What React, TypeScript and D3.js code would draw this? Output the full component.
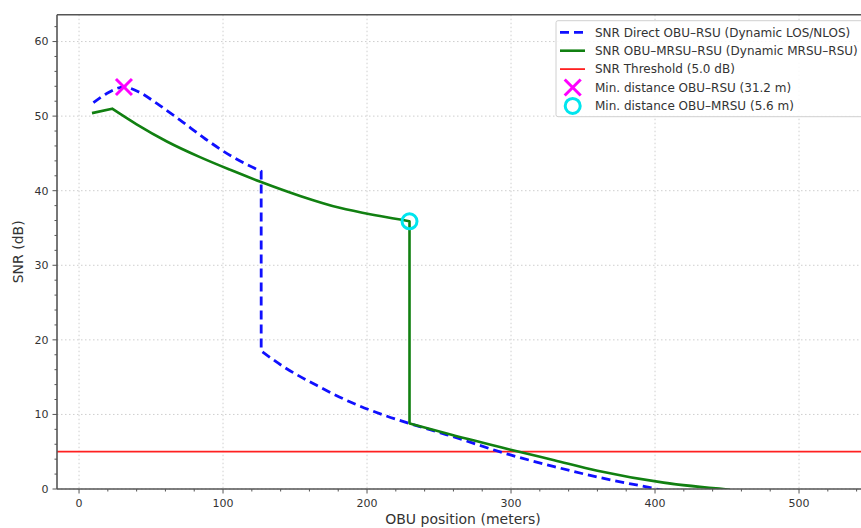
import React from 'react'
import * as d3 from 'd3'

// direct OBU-RSU link (dashed blue)
const directX = [10, 19, 31.2, 42, 54, 70, 88, 107, 126.5, 126.5, 142, 165, 188, 211, 230, 255, 299, 330, 360, 401, 413]
const directY = [51.8, 53.0, 53.9, 53.2, 51.7, 49.5, 46.9, 44.5, 42.6, 18.5, 16.4, 13.9, 11.7, 9.95, 8.75, 7.3, 4.6, 3.0, 1.6, 0.0, -0.5]

// OBU-MRSU-RSU link (green)
const mrsuX = [9, 23, 40, 61, 84, 105, 126, 153.5, 181, 209, 229.5, 229.5, 258, 299, 330, 360, 406, 452]
const mrsuY = [50.4, 51.0, 48.9, 46.6, 44.5, 42.8, 41.2, 39.3, 37.7, 36.6, 35.9, 8.8, 7.3, 5.3, 3.85, 2.45, 0.85, -0.1]
const mrsuKinks = [23]

const threshold = 5.0
const minDirect = { x: 31.2, y: 53.9 }
const minMrsu = { x: 229.5, y: 35.9 }

const xTicks = [0, 100, 200, 300, 400, 500]
const yTicks = [0, 10, 20, 30, 40, 50, 60]

const legendLabels = [
  'SNR Direct OBU\u2013RSU (Dynamic LOS/NLOS)',
  'SNR OBU\u2013MRSU\u2013RSU (Dynamic MRSU\u2013RSU)',
  'SNR Threshold (5.0 dB)',
  'Min. distance OBU\u2013RSU (31.2 m)',
  'Min. distance OBU\u2013MRSU (5.6 m)',
]

const W = 861
const H = 528
const PLOT = { left: 57, right: 869, top: 14.7, bottom: 489 }
const FONT = 'DejaVu Sans, sans-serif'
const TXT = '#333'

// smooth each piece between vertical jumps / kinks, keep one continuous path (dashes don't restart)
function smoothPath(
  xs: number[],
  ys: number[],
  sx: d3.ScaleLinear<number, number>,
  sy: d3.ScaleLinear<number, number>,
  kinks: number[] = []
) {
  const pts = xs.map((v, i) => [v, ys[i]] as [number, number])
  const pieces: [number, number][][] = [[pts[0]]]
  for (let i = 1; i < pts.length; i++) {
    const cur = pieces[pieces.length - 1]
    if (pts[i][0] === pts[i - 1][0]) pieces.push([pts[i]])
    else if (kinks.includes(pts[i][0])) {
      cur.push(pts[i])
      pieces.push([pts[i]])
    } else cur.push(pts[i])
  }
  const line = d3
    .line<[number, number]>()
    .x((d) => sx(d[0]))
    .y((d) => sy(d[1]))
    .curve(d3.curveMonotoneX)
  return pieces
    .filter((p) => p.length > 1)
    .map((p, i) => {
      const d = line(p) ?? ''
      return i === 0 ? d : 'L' + d.slice(1)
    })
    .join('')
}

export default function App() {
  const x = d3.scaleLinear().domain([-15.3, 548.6]).range([PLOT.left, PLOT.right])
  const y = d3.scaleLinear().domain([0, 63.6]).range([PLOT.bottom, PLOT.top])

  const directPath = smoothPath(directX, directY, x, y)
  const mrsuPath = smoothPath(mrsuX, mrsuY, x, y, mrsuKinks)

  const xMinor = d3.range(0, 560, 20).filter((v) => v % 100 !== 0)
  const yMinor = d3.range(0, 64, 2).filter((v) => v % 10 !== 0)

  const mx = x(minDirect.x)
  const my = y(minDirect.y)
  const xs = 8

  const legX = 556
  const legTop = 20.7
  const rowH = 18.4
  const handleX0 = 560
  const handleX1 = 585
  const handleMid = 572.7

  return (
    <svg width={W} height={H} style={{ position: 'absolute', left: 0, top: 0, background: '#fff' }}>
      <defs>
        <clipPath id="plotClip">
          <rect x={PLOT.left} y={PLOT.top} width={PLOT.right - PLOT.left} height={PLOT.bottom - PLOT.top} />
        </clipPath>
      </defs>

      {/* grid */}
      <g stroke="#c8c8c8" strokeWidth={0.9} strokeDasharray="1.5,2.5">
        {xTicks.map((t) => (
          <line key={'gx' + t} x1={x(t)} x2={x(t)} y1={PLOT.top} y2={PLOT.bottom} />
        ))}
        {yTicks.map((t) => (
          <line key={'gy' + t} x1={PLOT.left} x2={PLOT.right} y1={y(t)} y2={y(t)} />
        ))}
      </g>

      {/* data */}
      <g clipPath="url(#plotClip)" fill="none">
        <line x1={PLOT.left} x2={PLOT.right} y1={y(threshold)} y2={y(threshold)} stroke="#ff2020" strokeWidth={1.8} />
        <path d={directPath} stroke="#1010ff" strokeWidth={2.8} strokeDasharray="9,5" />
        <path d={mrsuPath} stroke="#118011" strokeWidth={2.6} strokeLinejoin="round" />
      </g>

      {/* markers */}
      <g stroke="#ff00ff" strokeWidth={3} strokeLinecap="butt">
        <line x1={mx - xs} y1={my - xs} x2={mx + xs} y2={my + xs} />
        <line x1={mx - xs} y1={my + xs} x2={mx + xs} y2={my - xs} />
      </g>
      <circle cx={x(minMrsu.x)} cy={y(minMrsu.y)} r={7.5} fill="none" stroke="#00e5ee" strokeWidth={3} />

      {/* spines */}
      <g stroke="#555" strokeWidth={1.6} fill="none">
        <line x1={PLOT.left} x2={PLOT.left} y1={PLOT.top} y2={PLOT.bottom} />
        <line x1={PLOT.left} x2={PLOT.right} y1={PLOT.bottom} y2={PLOT.bottom} />
        <line x1={PLOT.left} x2={PLOT.right} y1={PLOT.top} y2={PLOT.top} />
      </g>

      {/* ticks */}
      <g stroke="#555" strokeWidth={1}>
        {xTicks.map((t) => (
          <line key={'tx' + t} x1={x(t)} x2={x(t)} y1={PLOT.bottom} y2={PLOT.bottom + 4.5} />
        ))}
        {xMinor.map((t) => (
          <line key={'mx' + t} x1={x(t)} x2={x(t)} y1={PLOT.bottom} y2={PLOT.bottom + 2.5} />
        ))}
        {yTicks.map((t) => (
          <line key={'ty' + t} x1={PLOT.left - 4.5} x2={PLOT.left} y1={y(t)} y2={y(t)} />
        ))}
        {yMinor.map((t) => (
          <line key={'my' + t} x1={PLOT.left - 2.5} x2={PLOT.left} y1={y(t)} y2={y(t)} />
        ))}
      </g>

      {/* tick labels */}
      <g fontFamily={FONT} fontSize={11} fill={TXT}>
        {xTicks.map((t) => (
          <text key={'lx' + t} x={x(t)} y={507} textAnchor="middle">
            {t}
          </text>
        ))}
        {yTicks.map((t) => (
          <text key={'ly' + t} x={48.5} y={y(t)} dy="0.35em" textAnchor="end">
            {t}
          </text>
        ))}
      </g>

      {/* axis labels */}
      <text x={463} y={524} textAnchor="middle" fontFamily={FONT} fontSize={14} fill={TXT}>
        OBU position (meters)
      </text>
      <text
        transform={`translate(23,${(PLOT.top + PLOT.bottom) / 2}) rotate(-90)`}
        textAnchor="middle"
        fontFamily={FONT}
        fontSize={14}
        fill={TXT}
      >
        SNR (dB)
      </text>

      {/* legend */}
      <g>
        <rect x={legX} y={legTop} width={320} height={96} rx={2} fill="#fff" fillOpacity={0.85} stroke="#d0d0d0" strokeWidth={1} />
        {legendLabels.map((lab, i) => {
          const cy = legTop + 11.6 + i * rowH
          let handle: React.ReactNode = null
          if (i === 0)
            handle = <line x1={handleX0} x2={handleX1} y1={cy} y2={cy} stroke="#1010ff" strokeWidth={2.8} strokeDasharray="9,5" />
          else if (i === 1)
            handle = <line x1={handleX0} x2={handleX1} y1={cy} y2={cy} stroke="#118011" strokeWidth={2.6} />
          else if (i === 2)
            handle = <line x1={handleX0} x2={handleX1} y1={cy} y2={cy} stroke="#ff2020" strokeWidth={1.8} />
          else if (i === 3)
            handle = (
              <g stroke="#ff00ff" strokeWidth={3}>
                <line x1={handleMid - xs} y1={cy - xs} x2={handleMid + xs} y2={cy + xs} />
                <line x1={handleMid - xs} y1={cy + xs} x2={handleMid + xs} y2={cy - xs} />
              </g>
            )
          else handle = <circle cx={handleMid} cy={cy} r={7.5} fill="none" stroke="#00e5ee" strokeWidth={3} />
          return (
            <g key={lab}>
              {handle}
              <text x={595} y={cy} dy="0.35em" fontFamily={FONT} fontSize={12} fill={TXT}>
                {lab}
              </text>
            </g>
          )
        })}
      </g>
    </svg>
  )
}
